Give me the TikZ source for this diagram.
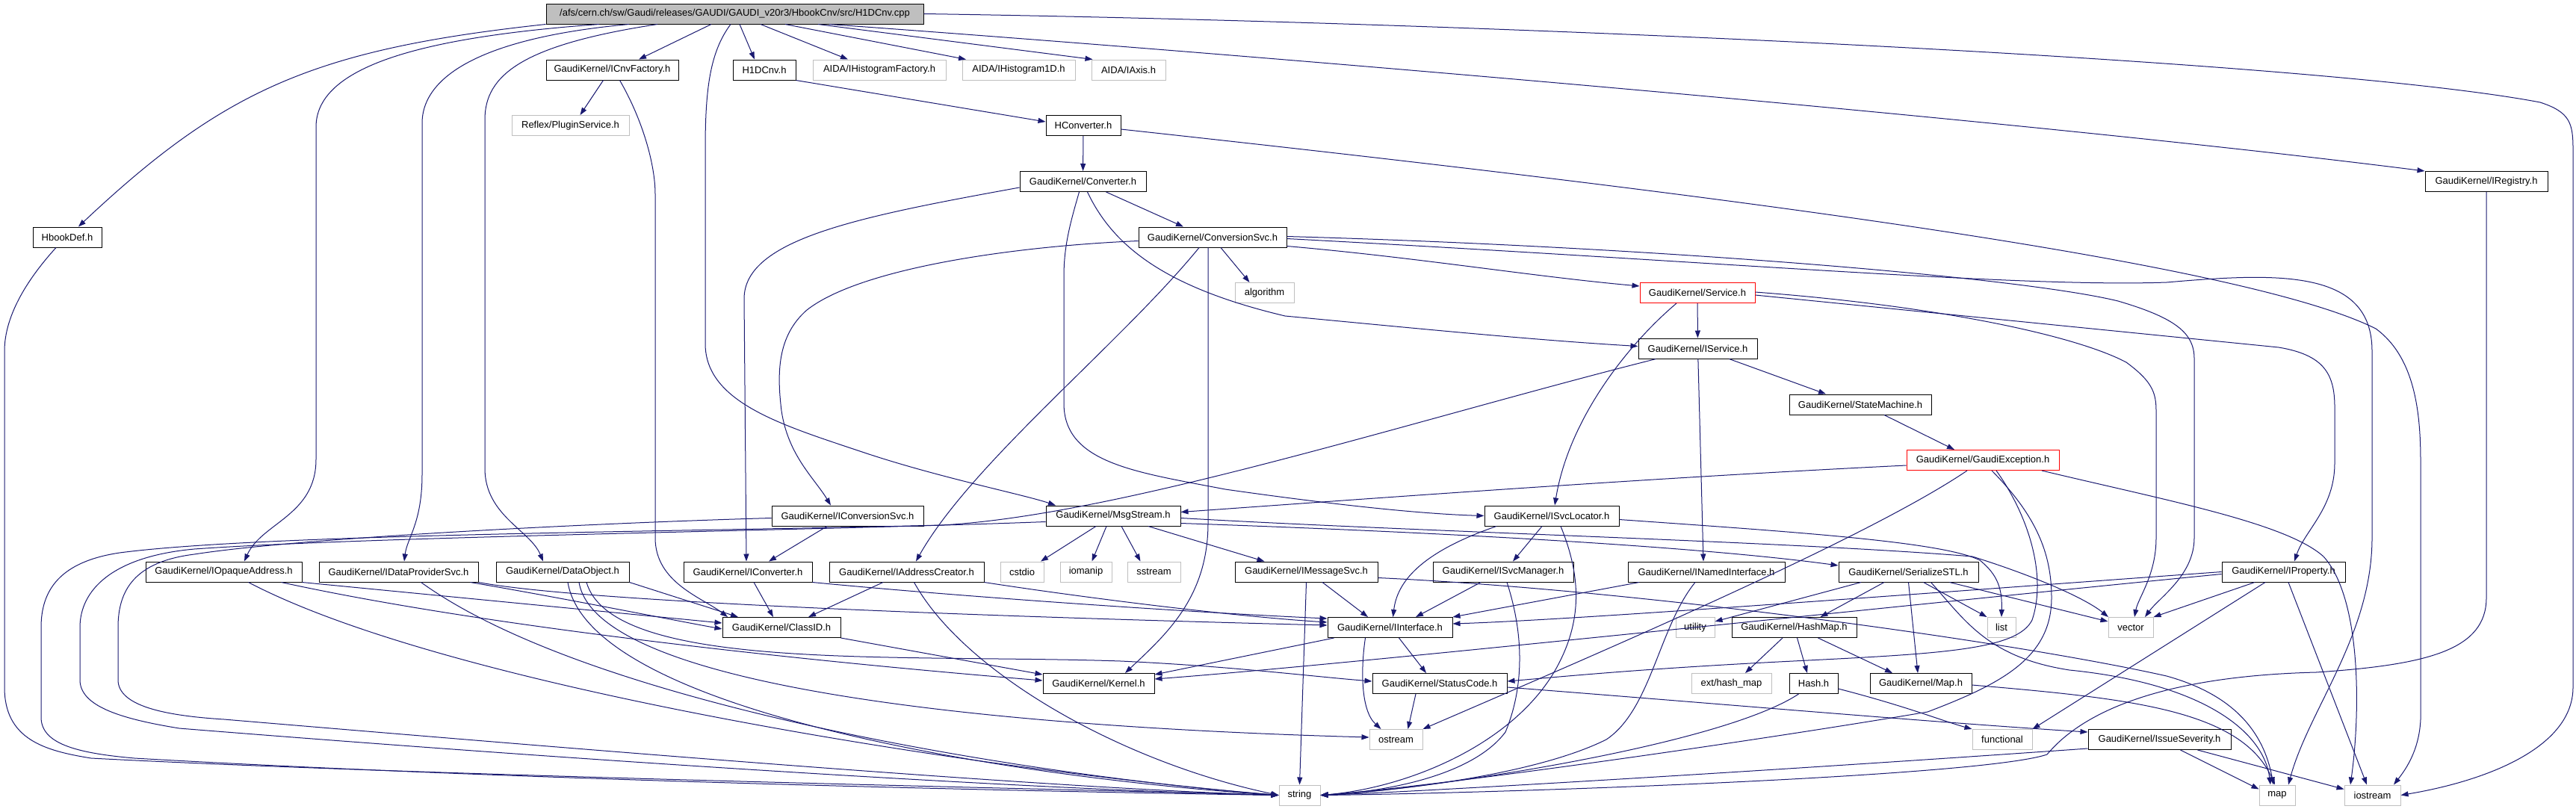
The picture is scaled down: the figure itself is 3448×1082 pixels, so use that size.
\documentclass[tikz,border=0pt]{standalone}
\usepackage{fontspec}
\setmainfont{Liberation Sans}
\usetikzlibrary{arrows.meta}
\definecolor{edgec}{HTML}{191970}
\definecolor{extc}{HTML}{BFBFBF}
\begin{document}
\begin{tikzpicture}[x=1pt,y=-1pt,
  nd/.style={draw=black,line width=1pt,minimum height=27pt,inner sep=0pt,font=\fontsize{13}{15}\selectfont,text=black},
  ext/.style={nd,draw=extc},
  rednd/.style={nd,draw=red},
  rt/.style={nd,fill=extc},
  edg/.style={draw=edgec,line width=1pt,-{Triangle[length=10pt,width=7pt]}}]
\useasboundingbox (0,0) rectangle (3448,1082);
% nodes
\node[rt,minimum width=505pt] (root) at (983.5,18.5) {/afs/cern.ch/sw/Gaudi/releases/GAUDI/GAUDI\_v20r3/HbookCnv/src/H1DCnv.cpp};
\node[nd,minimum width=177pt] (cnvf) at (819.5,93.5) {GaudiKernel/ICnvFactory.h};
\node[nd,minimum width=84pt] (h1d) at (1023,93.5) {H1DCnv.h};
\node[ext,minimum width=178pt] (ihf) at (1177,93.5) {AIDA/IHistogramFactory.h};
\node[ext,minimum width=151pt] (ih1) at (1363.5,93.5) {AIDA/IHistogram1D.h};
\node[ext,minimum width=99pt] (iax) at (1510.5,93.5) {AIDA/IAxis.h};
\node[ext,minimum width=157pt] (refl) at (763.5,168) {Reflex/PluginService.h};
\node[nd,minimum width=100pt] (hcnv) at (1450,168) {HConverter.h};
\node[nd,minimum width=169pt] (conv) at (1449.5,243) {GaudiKernel/Converter.h};
\node[nd,minimum width=164pt] (ireg) at (3328,243) {GaudiKernel/IRegistry.h};
\node[nd,minimum width=92pt] (hbd) at (90,317.5) {HbookDef.h};
\node[nd,minimum width=198pt] (csvc) at (1623,317.5) {GaudiKernel/ConversionSvc.h};
\node[ext,minimum width=79pt] (algo) at (1692.5,392) {algorithm};
\node[rednd,minimum width=154pt] (svc) at (2272,392) {GaudiKernel/Service.h};
\node[nd,minimum width=159pt] (isvc) at (2272.5,466.5) {GaudiKernel/IService.h};
\node[nd,minimum width=190pt] (sm) at (2490,541.5) {GaudiKernel/StateMachine.h};
\node[rednd,minimum width=204pt] (gex) at (2654,616) {GaudiKernel/GaudiException.h};
\node[nd,minimum width=203pt] (icsvc) at (1134.5,690.5) {GaudiKernel/IConversionSvc.h};
\node[nd,minimum width=180pt] (msg) at (1490,690.5) {GaudiKernel/MsgStream.h};
\node[nd,minimum width=180pt] (isl) at (2077,690.5) {GaudiKernel/ISvcLocator.h};
\node[nd,minimum width=209pt] (ioa) at (299.5,765.5) {GaudiKernel/IOpaqueAddress.h};
\node[nd,minimum width=213pt] (idp) at (533.5,765.5) {GaudiKernel/IDataProviderSvc.h};
\node[nd,minimum width=178pt] (dobj) at (753,765.5) {GaudiKernel/DataObject.h};
\node[nd,minimum width=172pt] (icv) at (1001,765.5) {GaudiKernel/IConverter.h};
\node[nd,minimum width=207pt] (iac) at (1213.5,765.5) {GaudiKernel/IAddressCreator.h};
\node[ext,minimum width=58pt] (cstdio) at (1368,765.5) {cstdio};
\node[ext,minimum width=69pt] (iomanip) at (1453.5,765.5) {iomanip};
\node[ext,minimum width=71pt] (sstream) at (1544.5,765.5) {sstream};
\node[nd,minimum width=191pt] (ims) at (1748.5,765.5) {GaudiKernel/IMessageSvc.h};
\node[nd,minimum width=188pt] (ism) at (2012,765.5) {GaudiKernel/ISvcManager.h};
\node[nd,minimum width=210pt] (ini) at (2284,765.5) {GaudiKernel/INamedInterface.h};
\node[nd,minimum width=187pt] (sstl) at (2554.5,765.5) {GaudiKernel/SerializeSTL.h};
\node[nd,minimum width=165pt] (iprop) at (3056.5,765.5) {GaudiKernel/IProperty.h};
\node[nd,minimum width=158pt] (clid) at (1046,840) {GaudiKernel/ClassID.h};
\node[nd,minimum width=167pt] (iif) at (1860.5,840) {GaudiKernel/IInterface.h};
\node[ext,minimum width=52pt] (util) at (2269,840) {utility};
\node[nd,minimum width=167pt] (hmap) at (2401.5,840) {GaudiKernel/HashMap.h};
\node[ext,minimum width=38pt] (lst) at (2679,840) {list};
\node[ext,minimum width=60pt] (vec) at (2852,840) {vector};
\node[nd,minimum width=149pt] (kern) at (1470.5,915) {GaudiKernel/Kernel.h};
\node[nd,minimum width=180pt] (sc) at (1927,915) {GaudiKernel/StatusCode.h};
\node[ext,minimum width=107pt] (ehm) at (2317.5,915) {ext/hash\_map};
\node[nd,minimum width=65pt] (hash) at (2427.5,915) {Hash.h};
\node[nd,minimum width=136pt] (gmap) at (2571,915) {GaudiKernel/Map.h};
\node[ext,minimum width=71pt] (ostr) at (1868.5,990) {ostream};
\node[ext,minimum width=80pt] (func) at (2680,990) {functional};
\node[nd,minimum width=191pt] (isev) at (2890.5,990) {GaudiKernel/IssueSeverity.h};
\node[ext,minimum width=55pt] (str) at (1739.5,1064.5) {string};
\node[ext,minimum width=48pt] (mapn) at (3048,1064.5) {map};
\node[ext,minimum width=75pt] (ios) at (3175.5,1064.5) {iostream};
% root edges
\draw[edg] (root.south west) .. controls (420,66) and (300,120) .. (hbd);
\draw[edg] ([xshift=-181.5pt]root.south) .. controls (560,50) and (423,90) .. (423,170) -- (423,615) .. controls (423,690) and (350,700) .. ([xshift=27.5pt]ioa.north);
\draw[edg] ([xshift=-141.5pt]root.south) .. controls (650,50) and (565,100) .. (565,165) -- (565,635) .. controls (565,700) and (545,720) .. ([xshift=7.5pt]idp.north);
\draw[edg] ([xshift=-103.5pt]root.south) .. controls (700,60) and (649,100) .. (649,160) -- (649,627) .. controls (649,690) and (710,710) .. ([xshift=-26pt]dobj.north);
\draw[edg] ([xshift=-31.5pt]root.south) -- ([xshift=35.5pt]cnvf.north);
\draw[edg] ([xshift=-5.5pt]root.south) .. controls (950,70) and (944,120) .. (944,200) -- (944,460) .. controls (944,540) and (1050,570) .. (1160,607) .. controls (1260,640) and (1370,662) .. ([xshift=-77pt]msg.north);
\draw[edg] ([xshift=6.5pt]root.south) -- ([xshift=-13pt]h1d.north);
\draw[edg] ([xshift=34.5pt]root.south) -- ([xshift=-42pt]ihf.north);
\draw[edg] ([xshift=67.5pt]root.south) -- ([xshift=-70.5pt]ih1.north);
\draw[edg] ([xshift=111.5pt]root.south) -- ([xshift=-48pt]iax.north);
\draw[edg] ([xshift=126.5pt]root.south) .. controls (1700,75) and (2700,160) .. (ireg.north west);
\draw[edg] (root.east) .. controls (2000,30) and (3100,80) .. (3400,137) .. controls (3440,150) and (3444,165) .. (3444,200) -- (3444,920) .. controls (3444,1000) and (3330,1045) .. (ios.east);
% HbookDef, CnvFactory, H1DCnv, HConverter
\draw[edg] ([xshift=-15pt]hbd.south) .. controls (40,370) and (6,420) .. (6,470) -- (6,920) .. controls (6,990) and (60,1005) .. (122,1015) .. controls (600,1040) and (1500,1058) .. (str.west);
\draw[edg] ([xshift=-12pt]cnvf.south) -- ([xshift=13pt]refl.north);
\draw[edg] ([xshift=10pt]cnvf.south) .. controls (860,160) and (877,220) .. (877,260) -- (877,720) .. controls (877,780) and (940,800) .. ([xshift=-72pt]clid.north);
\draw[edg] (h1d.south east) -- ([yshift=5pt]hcnv.west);
\draw[edg] (hcnv) -- (conv);
\draw[edg] ([yshift=-5pt]hcnv.east) .. controls (2300,260) and (3000,350) .. (3180,440) .. controls (3235,480) and (3240,560) .. (3240,620) -- (3240,950) .. controls (3242,1000) and (3220,1030) .. ([xshift=28.5pt]ios.north);
% Converter
\draw[edg] ([yshift=-8pt]conv.west) .. controls (1150,290) and (996,320) .. (996,400) -- ([xshift=-2pt]icv.north);
\draw[edg] ([xshift=31pt]conv.south) -- ([xshift=-39pt]csvc.north);
\draw[edg] ([xshift=6pt]conv.south) .. controls (1490,330) and (1560,385) .. (1720,423) .. controls (1900,440) and (2050,455) .. ([yshift=3pt]isvc.west);
\draw[edg] ([xshift=-5pt]conv.south) .. controls (1432,300) and (1424,330) .. (1424,370) -- (1424,540) .. controls (1424,620) and (1520,632) .. (1640,655) .. controls (1780,675) and (1900,688) .. (isl.west);
% ConversionSvc
\draw[edg] ([xshift=11pt]csvc.south) -- ([xshift=-20pt]algo.north);
\draw[edg] ([yshift=-12pt]csvc.east) .. controls (1900,345) and (2050,370) .. ([yshift=9pt]svc.west);
\draw[edg] ([yshift=-5pt]csvc.west) .. controls (1350,330) and (1150,360) .. (1080,415) .. controls (1040,450) and (1040,500) .. (1046,550) .. controls (1055,610) and (1090,640) .. ([xshift=-22.5pt]icsvc.north);
\draw[edg] ([xshift=-18pt]csvc.south) .. controls (1500,460) and (1300,620) .. ([xshift=12.5pt]iac.north);
\draw[edg] ([xshift=-6pt]csvc.south) -- (1617,700) .. controls (1617,800) and (1560,850) .. ([xshift=35.5pt]kern.north);
\draw[edg] ([yshift=1pt]csvc.east) .. controls (2200,330) and (2700,370) .. (2835,403) .. controls (2910,425) and (2937,445) .. (2937,480) -- (2937,720) .. controls (2937,770) and (2890,800) .. ([xshift=19pt]vec.north);
\draw[edg] ([yshift=-2pt]csvc.east) .. controls (2300,350) and (2700,385) .. (2900,378) .. controls (3050,365) and (3175,360) .. (3175,470) -- (3175,720) .. controls (3175,850) and (3090,950) .. ([xshift=15pt]mapn.north);
% Service, IService, StateMachine
\draw[edg] (svc) -- (isvc);
\draw[edg] ([xshift=-28pt]svc.south) .. controls (2180,460) and (2100,560) .. ([xshift=4pt]isl.north);
\draw[edg] ([yshift=-3pt]svc.east) .. controls (2700,430) and (2950,455) .. (3050,465) .. controls (3110,475) and (3125,500) .. (3125,545) -- (3125,620) .. controls (3125,680) and (3085,710) .. ([xshift=14.5pt]iprop.north);
\draw[edg] ([yshift=1pt]svc.east) .. controls (2600,410) and (2780,450) .. (2846,485) .. controls (2880,510) and (2886,525) .. (2886,550) -- (2886,720) .. controls (2886,770) and (2862,800) .. ([xshift=5pt]vec.north);
\draw[edg] (isvc) -- ([xshift=-4pt]ini.north);
\draw[edg] ([xshift=42pt]isvc.south) -- ([xshift=-46pt]sm.north);
\draw[edg] ([xshift=-56pt]isvc.south) .. controls (1900,560) and (1500,690) .. (1260,703) .. controls (900,712) and (350,715) .. (160,740) .. controls (80,752) and (55,790) .. (55,840) -- (55,960) .. controls (55,995) and (100,1008) .. (180,1015) .. controls (700,1045) and (1400,1060) .. (str.west);
\draw[edg] ([xshift=32pt]sm.south) -- ([xshift=-38pt]gex.north);
% GaudiException
\draw[edg] ([yshift=-7pt]gex.west) .. controls (2200,640) and (1800,670) .. ([yshift=5pt]msg.east);
\draw[edg] ([xshift=18pt]gex.south) .. controls (2715,690) and (2740,770) .. (2720,830) .. controls (2700,870) and (2600,875) .. (2400,885) .. controls (2200,895) and (2100,905) .. ([yshift=3pt]sc.east);
\draw[edg] ([xshift=12pt]gex.south) .. controls (2725,690) and (2746,740) .. (2746,800) .. controls (2746,880) and (2680,915) .. (2580,953) .. controls (2300,1000) and (1900,1055) .. (str.east);
\draw[edg] ([xshift=79pt]gex.south) .. controls (2900,670) and (3060,700) .. (3110,745) .. controls (3160,800) and (3160,950) .. ([xshift=-29.5pt]ios.north);
\draw[edg] ([xshift=-21pt]gex.south) .. controls (2500,720) and (2150,870) .. (ostr.north east);
% MsgStream
\draw[edg] ([yshift=-8pt]msg.west) .. controls (1100,710) and (500,718) .. (260,735) .. controls (150,745) and (107,790) .. (107,840) -- (107,910) .. controls (107,945) and (160,962) .. (240,975) .. controls (800,1020) and (1400,1058) .. (str.west);
\draw[edg] ([xshift=-23pt]msg.south) -- ([xshift=25pt]cstdio.north);
\draw[edg] ([xshift=-9pt]msg.south) -- ([xshift=8pt]iomanip.north);
\draw[edg] ([xshift=11pt]msg.south) -- ([xshift=-18pt]sstream.north);
\draw[edg] ([xshift=47pt]msg.south) -- ([xshift=-56pt]ims.north);
\draw[edg] ([yshift=-10pt]msg.east) .. controls (2000,715) and (2300,735) .. ([yshift=8.5pt]sstl.west);
\draw[edg] ([yshift=-3pt]msg.east) .. controls (1900,712) and (2400,725) .. (2640,745) .. controls (2720,770) and (2790,800) .. ([xshift=-30pt]vec.north);
% IConversionSvc
\draw[edg] ([xshift=-27.5pt]icsvc.south) -- ([xshift=28pt]icv.north);
\draw[edg] ([yshift=-3pt]icsvc.west) .. controls (800,700) and (400,720) .. (260,742) .. controls (180,752) and (158,790) .. (158,840) -- (158,910) .. controls (158,945) and (220,958) .. (300,963) .. controls (800,1005) and (1400,1055) .. (str.west);
% ISvcLocator
\draw[edg] ([xshift=-74pt]isl.south) .. controls (1900,740) and (1870,780) .. ([xshift=4pt]iif.north);
\draw[edg] ([xshift=-13pt]isl.south) -- ([xshift=13pt]ism.north);
\draw[edg] ([xshift=12pt]isl.south) .. controls (2120,780) and (2115,840) .. (2080,900) .. controls (2020,1000) and (1880,1055) .. (str.east);
\draw[edg] ([yshift=-5pt]isl.east) .. controls (2400,712) and (2600,725) .. (2650,750) .. controls (2675,770) and (2680,790) .. (lst.north);
% ISvcManager, INamedInterface, IMessageSvc
\draw[edg] ([xshift=-30pt]ism.south) -- ([xshift=34.5pt]iif.north);
\draw[edg] ([xshift=5pt]ism.south) .. controls (2040,850) and (2040,920) .. (2015,980) .. controls (1970,1040) and (1850,1060) .. (str.east);
\draw[edg] ([xshift=-90pt]ini.south) -- ([yshift=14pt]iif.east);
\draw[edg] ([xshift=-15pt]ini.south) .. controls (2220,840) and (2210,950) .. (2150,990) .. controls (2050,1040) and (1850,1060) .. (str.east);
\draw[edg] ([xshift=21.5pt]ims.south) -- ([xshift=-29.5pt]iif.north);
\draw[edg] (ims.south) -- (str.north);
\draw[edg] ([yshift=-8pt]ims.east) .. controls (2200,790) and (2700,860) .. (2900,905) .. controls (2990,930) and (3030,980) .. ([xshift=-5pt]mapn.north);
% SerializeSTL, HashMap, Hash, Map
\draw[edg] ([xshift=-32.5pt]sstl.south) -- ([xshift=35pt]hmap.north);
\draw[edg] ([xshift=-63.5pt]sstl.south) -- ([yshift=8pt]util.east);
\draw[edg] (sstl.south) -- ([xshift=-4pt]gmap.north);
\draw[edg] ([xshift=20pt]sstl.south) -- (lst.north west);
\draw[edg] ([xshift=55pt]sstl.south) -- ([yshift=8pt]vec.west);
\draw[edg] ([xshift=30pt]sstl.south) .. controls (2630,830) and (2660,880) .. (2770,897) .. controls (2950,915) and (3030,980) .. ([xshift=-9pt]mapn.north);
\draw[edg] ([xshift=-15.5pt]hmap.south) -- ([xshift=18.5pt]ehm.north);
\draw[edg] ([xshift=4pt]hmap.south) -- ([xshift=-8.5pt]hash.north);
\draw[edg] ([xshift=32pt]hmap.south) -- ([xshift=-38pt]gmap.north);
\draw[edg] ([yshift=-7pt]hash.east) .. controls (2550,945) and (2600,965) .. (func.north west);
\draw[edg] ([xshift=-20pt]hash.south) .. controls (2300,1000) and (1900,1058) .. (str.east);
\draw[edg] ([yshift=-2pt]gmap.east) .. controls (2850,935) and (3000,950) .. ([xshift=-3pt]mapn.north);
% IInterface, StatusCode, IssueSeverity
\draw[edg] ([xshift=-75pt]iif.south) -- ([yshift=12pt]kern.east);
\draw[edg] ([xshift=12pt]iif.south) -- ([xshift=-18pt]sc.north);
\draw[edg] ([xshift=-33pt]iif.south) .. controls (1822,890) and (1820,950) .. ([xshift=-20pt]ostr.north);
\draw[edg] ([xshift=-32pt]sc.south) -- ([xshift=16pt]ostr.north);
\draw[edg] ([yshift=-5pt]sc.east) .. controls (2300,942) and (2600,968) .. ([yshift=10pt]isev.west);
\draw[edg] ([xshift=28pt]isev.south) -- ([yshift=8pt]mapn.west);
\draw[edg] ([xshift=51pt]isev.south) -- ([yshift=8pt]ios.west);
\draw[edg] ([yshift=-12pt]isev.west) .. controls (2400,1030) and (1900,1060) .. (str.east);
% IProperty
\draw[edg] (iprop.west) .. controls (2500,800) and (2100,830) .. ([yshift=5pt]iif.east);
\draw[edg] ([yshift=-3pt]iprop.west) .. controls (2500,815) and (1800,890) .. ([yshift=6pt]kern.east);
\draw[edg] ([xshift=-38.5pt]iprop.south) -- (vec.north east);
\draw[edg] ([xshift=-24.5pt]iprop.south) -- (func.north east);
\draw[edg] ([xshift=6.5pt]iprop.south) -- ([xshift=-7.5pt]ios.north);
% IRegistry
\draw[edg] (ireg.south) -- (3328,800) .. controls (3328,870) and (3250,890) .. (3100,900) .. controls (2900,905) and (2790,950) .. (2740,1010) .. controls (2650,1040) and (2000,1062) .. (str.east);
% IAddressCreator, IConverter, ClassID
\draw[edg] ([xshift=-31.5pt]iac.south) -- ([xshift=36pt]clid.north);
\draw[edg] (iac.south east) .. controls (1450,800) and (1650,825) .. ([yshift=7pt]iif.west);
\draw[edg] ([xshift=10pt]iac.south) .. controls (1290,900) and (1500,1020) .. (str.west);
\draw[edg] ([xshift=8pt]icv.south) -- ([xshift=-11pt]clid.north);
\draw[edg] (icv.south east) .. controls (1300,800) and (1600,820) .. ([yshift=12pt]iif.west);
\draw[edg] (clid.south east) -- ([yshift=12pt]kern.west);
% IOpaqueAddress, IDataProviderSvc, DataObject
\draw[edg] (ioa.south east) -- ([yshift=6pt]clid.west);
\draw[edg] ([xshift=77pt]ioa.south) .. controls (700,850) and (1200,895) .. ([yshift=4pt]kern.west);
\draw[edg] ([xshift=33pt]ioa.south) .. controls (600,920) and (1300,1030) .. (str.west);
\draw[edg] (idp.south east) .. controls (800,810) and (1500,830) .. ([yshift=3pt]iif.west);
\draw[edg] ([xshift=96pt]idp.south) .. controls (750,800) and (900,830) .. ([yshift=-2pt]clid.west);
\draw[edg] ([xshift=30pt]idp.south) .. controls (800,950) and (1400,1040) .. (str.west);
\draw[edg] (dobj.south east) -- ([xshift=-58pt]clid.north);
\draw[edg] ([xshift=32pt]dobj.south) .. controls (820,900) and (1200,875) .. (1500,885) .. controls (1650,892) and (1750,905) .. ([yshift=3pt]sc.west);
\draw[edg] ([xshift=22pt]dobj.south) .. controls (800,930) and (1400,975) .. ([yshift=3pt]ostr.west);
\draw[edg] ([xshift=7pt]dobj.south) .. controls (790,960) and (1400,1045) .. (str.west);
\end{tikzpicture}
\end{document}
